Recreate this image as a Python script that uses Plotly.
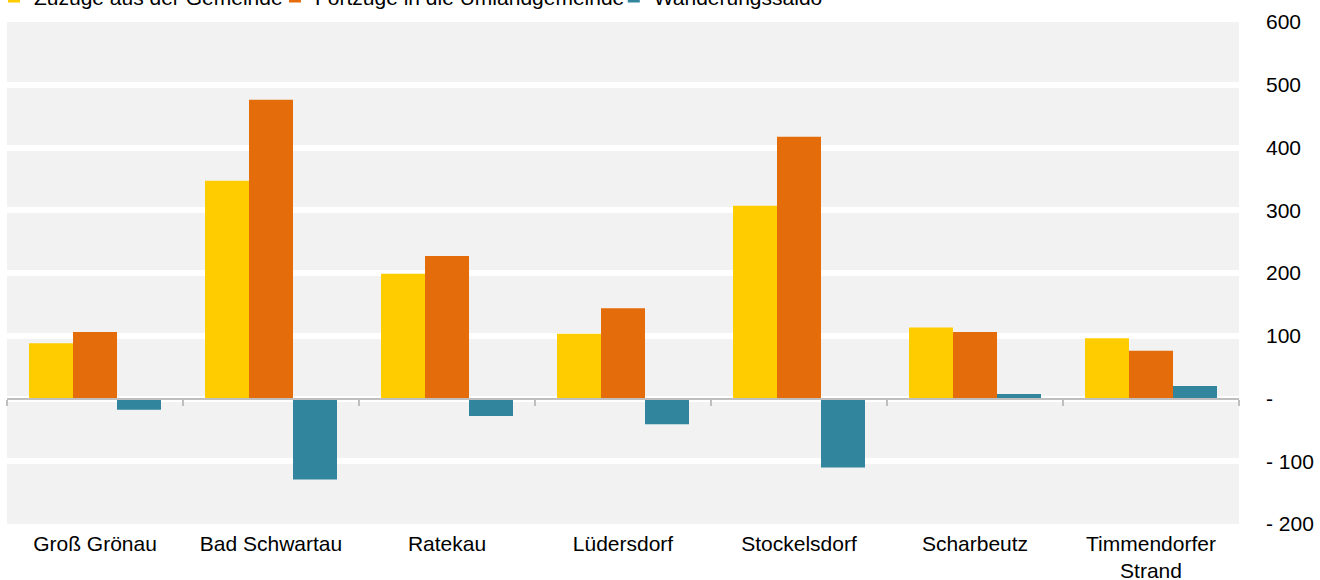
import plotly.graph_objects as go

# Gemeinden (Umland)
gemeinden = ["Groß Grönau", "Bad Schwartau", "Ratekau", "Lüdersdorf",
             "Stockelsdorf", "Scharbeutz", "Timmendorfer<br>Strand"]

# Wanderungen je Gemeinde
zuzuege = [88, 347, 199, 103, 307, 113, 96]
fortzuege = [106, 476, 227, 144, 417, 106, 76]
saldo = [-18, -129, -28, -41, -110, 7, 20]

y_tickvals = [-200, -100, 0, 100, 200, 300, 400, 500, 600]
y_ticktext = ["- 200", "- 100", "-", "100", "200", "300", "400", "500", "600"]

FONT = "Liberation Sans, Arial, sans-serif"

fig = go.Figure()
fig.add_trace(go.Bar(name="Zuzüge aus der Gemeinde", x=gemeinden, y=zuzuege,
                     marker=dict(color="#FFCC00", line=dict(width=0)),
                     legend="legend"))
fig.add_trace(go.Bar(name="Fortzüge in die Umlandgemeinde", x=gemeinden, y=fortzuege,
                     marker=dict(color="#E46C0A", line=dict(width=0)),
                     legend="legend2"))
fig.add_trace(go.Bar(name="Wanderungssaldo", x=gemeinden, y=saldo,
                     marker=dict(color="#31859C", line=dict(width=0)),
                     legend="legend3"))

# invisible helper trace so the category axis at zero carries the categories
fig.add_trace(go.Scatter(x=gemeinden, y=[0] * len(gemeinden), xaxis="x2",
                         mode="markers", marker=dict(opacity=0),
                         showlegend=False, hoverinfo="skip"))

legend_style = dict(orientation="h", xanchor="left", y=1.05, yanchor="middle",
                    font=dict(size=21), bgcolor="rgba(0,0,0,0)")

fig.update_layout(
    width=1320, height=580,
    margin=dict(l=7, r=81, t=22, b=56, autoexpand=False),
    paper_bgcolor="white",
    plot_bgcolor="#F2F2F2",
    barmode="group",
    bargap=0.25,
    bargroupgap=0,
    font=dict(family=FONT, size=21, color="#000000"),
    showlegend=True,
    legend=dict(x=-0.0106, **legend_style),
    legend2=dict(x=0.2175, **legend_style),
    legend3=dict(x=0.4925, **legend_style),
    xaxis=dict(type="category", range=[-0.5, 6.5], showgrid=False, zeroline=False,
               showline=False, ticks="", ticklabelstandoff=5,
               tickfont=dict(size=21), automargin=False),
    xaxis2=dict(type="category", overlaying="x", anchor="free", position=0.25,
                side="bottom", range=[-0.5, 6.5], matches="x",
                showgrid=False, zeroline=False, showline=True,
                linecolor="#BFBFBF", linewidth=2,
                ticks="outside", tickson="boundaries", ticklen=6,
                tickcolor="#BFBFBF", tickwidth=2, showticklabels=False),
    yaxis=dict(side="right", range=[-200, 600], tickvals=y_tickvals,
               ticktext=y_ticktext, showgrid=True, gridcolor="white",
               gridwidth=6, zeroline=False, showline=False, ticks="",
               ticklabelstandoff=26, tickfont=dict(size=21), automargin=False),
    hovermode=False,
)

fig.write_html("out.html")
